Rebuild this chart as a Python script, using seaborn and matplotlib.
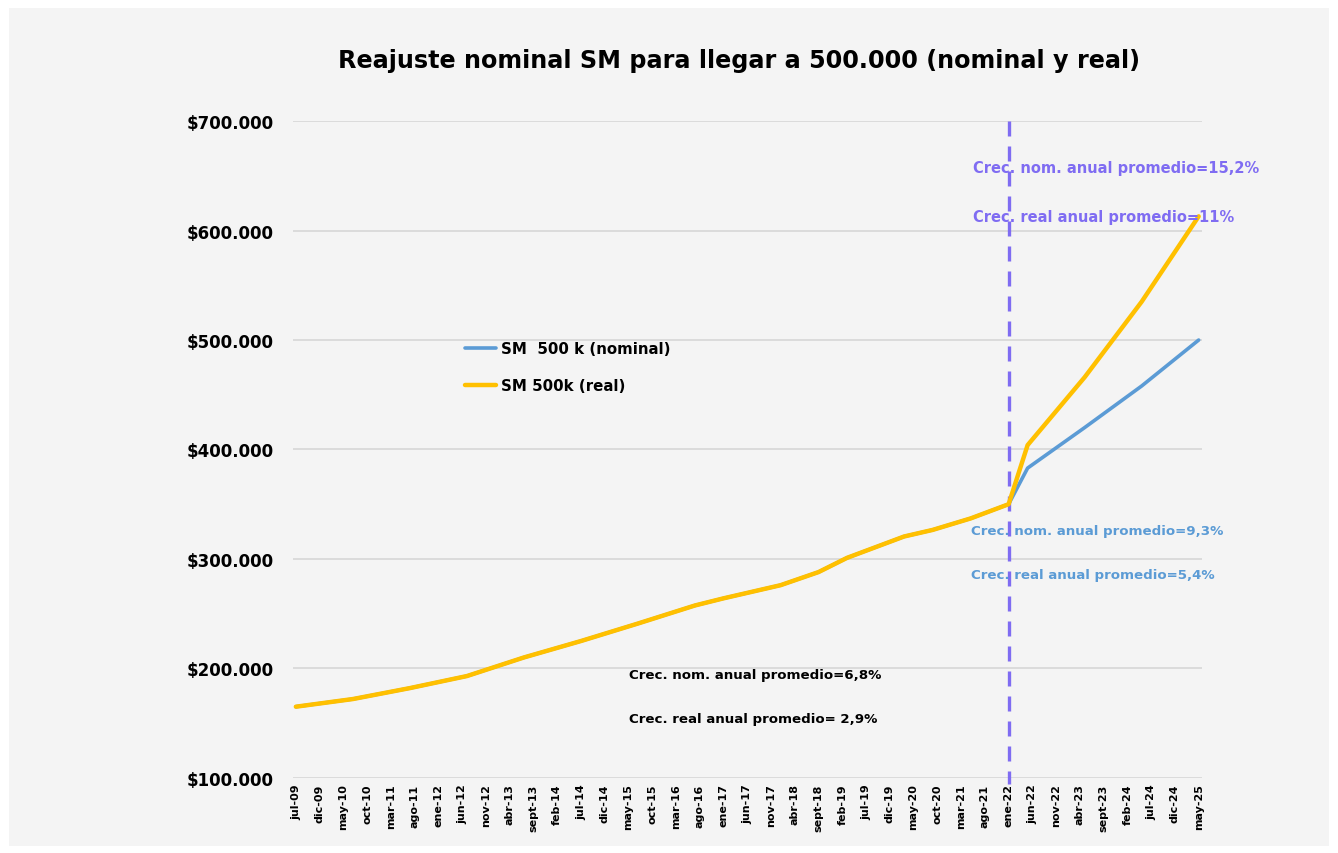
import matplotlib
matplotlib.use("Agg")
import matplotlib.pyplot as plt
import seaborn as sns
import pandas as pd
import numpy as np

# Data (fechas de reajuste, valores en $)
fechas = ["2009-07", "2010-07", "2011-07", "2012-07", "2013-07", "2014-07",
          "2015-07", "2016-07", "2017-01", "2017-07", "2018-01", "2018-09",
          "2019-03", "2020-03", "2020-09", "2021-05", "2022-01",
          "2022-05", "2023-05", "2024-05", "2025-05"]
sm_nominal = [165000, 172000, 182000, 193000, 210000, 225000,
              241000, 257500, 264000, 270000, 276000, 288000,
              301000, 320500, 326500, 337000, 350000,
              383000, 420000, 458000, 500000]
sm_real = [165000, 172000, 182000, 193000, 210000, 225000,
           241000, 257500, 264000, 270000, 276000, 288000,
           301000, 320500, 326500, 337000, 350000,
           404000, 466000, 535000, 613000]

tick_labels = ["jul-09", "dic-09", "may-10", "oct-10", "mar-11", "ago-11",
               "ene-12", "jun-12", "nov-12", "abr-13", "sept-13", "feb-14",
               "jul-14", "dic-14", "may-15", "oct-15", "mar-16", "ago-16",
               "ene-17", "jun-17", "nov-17", "abr-18", "sept-18", "feb-19",
               "jul-19", "dic-19", "may-20", "oct-20", "mar-21", "ago-21",
               "ene-22", "jun-22", "nov-22", "abr-23", "sept-23", "feb-24",
               "jul-24", "dic-24", "may-25"]
corte = "2022-01"

def meses(f):
    d = pd.Period(f, freq="M")
    return (d - pd.Period("2009-07", freq="M")).n

df = pd.DataFrame({"mes": [meses(f) for f in fechas],
                   "nominal": sm_nominal, "real": sm_real})

BLUE = "#5B9BD5"
YELLOW = "#FFC000"
PURPLE = "#7F6CF2"
BG = "#F4F4F4"

sns.set_theme(style="white")
plt.rcParams["font.family"] = ["DejaVu Sans"]
plt.rcParams["text.color"] = "black"
plt.rcParams["xtick.color"] = "black"
plt.rcParams["ytick.color"] = "black"

fig = plt.figure(figsize=(13.38, 8.54), dpi=100, facecolor="white")
fig.patches.append(plt.Rectangle((0.007, 0.008), 0.986, 0.982, transform=fig.transFigure,
                                 facecolor=BG, edgecolor="none", zorder=-10))
ax = fig.add_axes([0.219, 0.088, 0.679, 0.769])
ax.set_facecolor(BG)

sns.lineplot(data=df, x="mes", y="nominal", ax=ax, color=BLUE, linewidth=2.6,
             label="SM  500 k (nominal)")
sns.lineplot(data=df, x="mes", y="real", ax=ax, color=YELLOW, linewidth=3.2,
             label="SM 500k (real)")

x_corte = meses(corte)
ax.plot([x_corte, x_corte], [700000, 94000], color=PURPLE, linewidth=2.4,
        linestyle=(0, (4.5, 3)), clip_on=False, zorder=1)

ax.set_xlim(-0.6, 190.6)
ax.set_ylim(100000, 700000)
ax.set_xticks(np.arange(len(tick_labels)) * 5)
ax.set_xticklabels(tick_labels, rotation=90, fontsize=8, fontweight="bold")
yt = np.arange(100000, 700001, 100000)
ax.set_yticks(yt)
ax.set_yticklabels(["$" + f"{v:,}".replace(",", ".") for v in yt],
                   fontsize=12, fontweight="bold")
ax.tick_params(axis="y", length=0, pad=14)
ax.tick_params(axis="x", length=0, pad=4)
ax.grid(axis="y", color="#D9D9D9", linewidth=1.3)
ax.set_axisbelow(True)
for s in ax.spines.values():
    s.set_visible(False)
ax.set_xlabel("")
ax.set_ylabel("")

fig.text(0.552, 0.928, "Reajuste nominal SM para llegar a 500.000 (nominal y real)",
         ha="center", va="center", fontsize=17.2, fontweight="bold")

leg = ax.legend(loc="upper left", bbox_to_anchor=(0.174, 0.685), frameon=False,
                handlelength=2.1, labelspacing=1.45, handletextpad=0.3,
                prop={"weight": "bold", "size": 10.8})

notas = [
    (142.6, 658000, "Crec. nom. anual promedio=15,2%", PURPLE, 10.5),
    (142.6, 613000, "Crec. real anual promedio=11%", PURPLE, 10.5),
    (142.0, 325600, "Crec. nom. anual promedio=9,3%", BLUE, 9.6),
    (142.0, 285400, "Crec. real anual promedio=5,4%", BLUE, 9.6),
    (70.1, 194000, "Crec. nom. anual promedio=6,8%", "black", 9.6),
    (70.1, 154000, "Crec. real anual promedio= 2,9%", "black", 9.6),
]
for x, y, t, c, fs in notas:
    ax.text(x, y, t, color=c, fontsize=fs, fontweight="bold", ha="left", va="center")

fig.savefig("out.png", dpi=100, facecolor=fig.get_facecolor())
